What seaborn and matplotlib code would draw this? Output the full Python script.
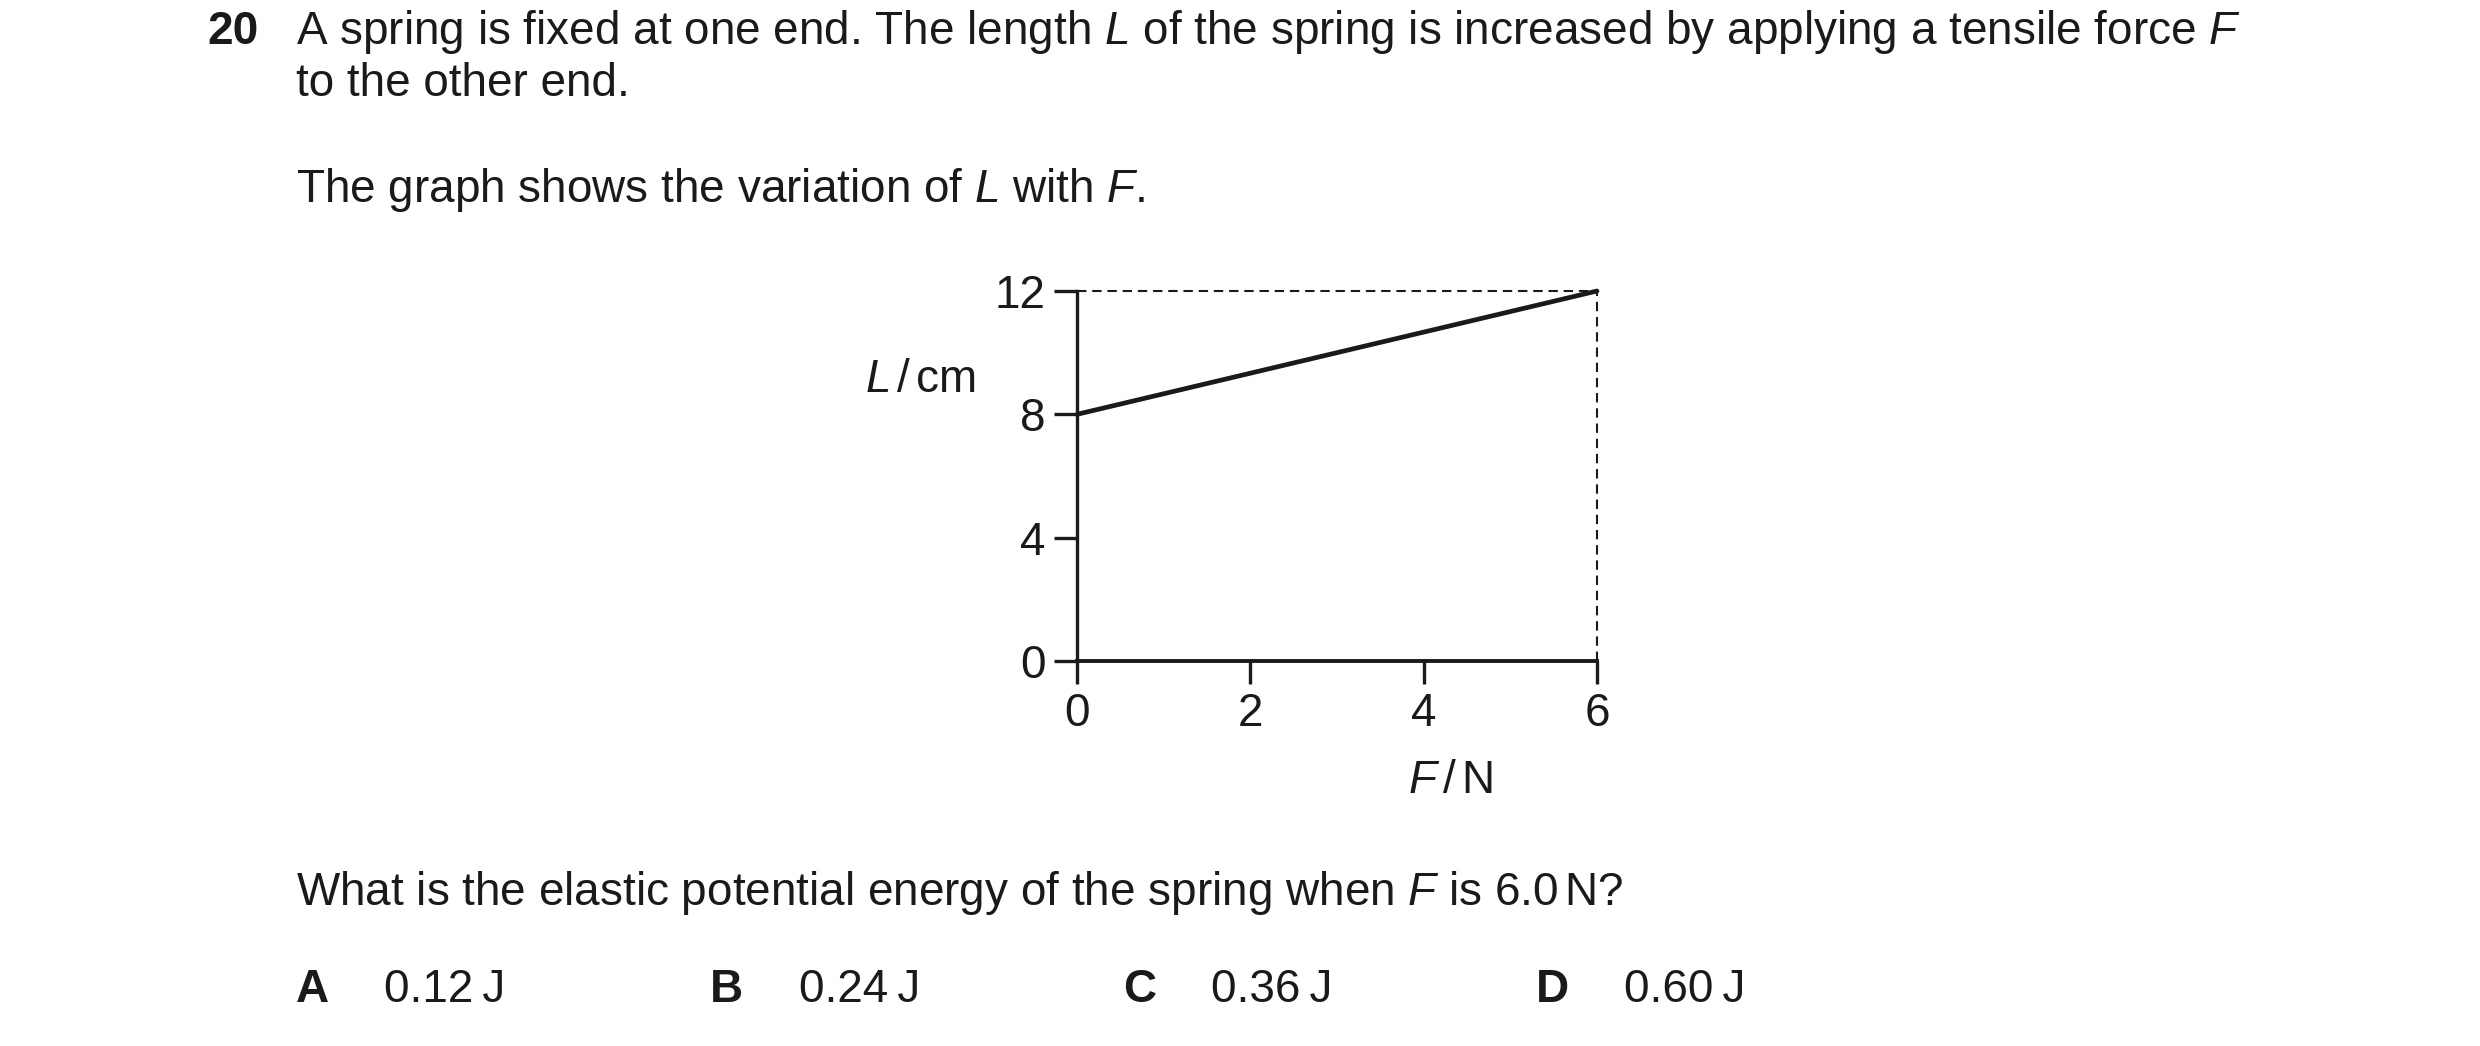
import matplotlib
matplotlib.use("Agg")
import matplotlib.pyplot as plt
import seaborn as sns
import pandas as pd

# Data
force_n = [0, 6]
length_cm = [8, 12]
x_ticks = [0, 2, 4, 6]
y_ticks = [0, 4, 8, 12]

option_letters = ["A", "B", "C", "D"]
option_values = ["0.12\u2009J", "0.24\u2009J", "0.36\u2009J", "0.60\u2009J"]

sns.set_theme(style="white")
plt.rcParams["font.family"] = ["Liberation Sans", "DejaVu Sans"]
plt.rcParams["mathtext.fontset"] = "custom"
plt.rcParams["mathtext.rm"] = "Liberation Sans"
plt.rcParams["mathtext.it"] = "Liberation Sans:italic"

W, H = 2480, 1046
fig = plt.figure(figsize=(W / 100, H / 100), dpi=100)
fig.patch.set_facecolor("white")


def px(x, y):
    return x / W, 1 - y / H


fs = 33
ink = "#1a1a1a"

# Question text
fig.text(*px(207, 32), "20", fontsize=fs, fontweight="bold", ha="left", va="center", color=ink)
fig.text(*px(296, 32),
         r"A spring is fixed at one end. The length $\mathit{L}$ of the spring is increased by applying a tensile force $\mathit{F}$",
         fontsize=fs, ha="left", va="center", color=ink)
fig.text(*px(296, 84), "to the other end.", fontsize=fs, ha="left", va="center", color=ink)
fig.text(*px(296, 190), r"The graph shows the variation of $\mathit{L}$ with $\mathit{F}$.",
         fontsize=fs, ha="left", va="center", color=ink)
fig.text(*px(296, 893), r"What is the elastic potential energy of the spring when $\mathit{F}$ is 6.0$\,$N?",
         fontsize=fs, ha="left", va="center", color=ink)

letter_x = [296, 710, 1123, 1536]
value_x = [384, 799, 1211, 1624]
for lx, vx, letter, val in zip(letter_x, value_x, option_letters, option_values):
    fig.text(*px(lx, 990), letter, fontsize=fs, fontweight="bold", ha="left", va="center", color=ink)
    fig.text(*px(vx, 990), val, fontsize=fs, ha="left", va="center", color=ink)

# Graph
ax = fig.add_axes([1077 / W, 1 - 661 / H, 520 / W, 370 / H])
df = pd.DataFrame({"F": force_n, "L": length_cm})
sns.lineplot(data=df, x="F", y="L", ax=ax, color=ink, linewidth=3.4, clip_on=False)

# dashed guide lines to the end point
dash = (0, (4.5, 2.8))
ax.plot([force_n[0], force_n[-1]], [length_cm[-1], length_cm[-1]], ls=dash, lw=1.5, color=ink, clip_on=False)
ax.plot([force_n[-1], force_n[-1]], [y_ticks[0], length_cm[-1]], ls=dash, lw=1.5, color=ink, clip_on=False)

ax.set_xlim(x_ticks[0], x_ticks[-1])
ax.set_ylim(y_ticks[0], y_ticks[-1])
ax.set_xticks(x_ticks)
ax.set_yticks(y_ticks)
ax.set_xlabel("")
ax.set_ylabel("")
for side in ["top", "right"]:
    ax.spines[side].set_visible(False)
ax.spines["left"].set_linewidth(2.4)
ax.spines["bottom"].set_linewidth(2.8)
ax.spines["left"].set_color(ink)
ax.spines["bottom"].set_color(ink)
ax.tick_params(axis="both", direction="out", length=16.5, width=2.4, colors=ink,
               labelsize=fs, pad=6, left=True, bottom=True)
ax.set_facecolor("white")

fig.text(*px(976, 380), r"$\mathit{L}$$\,$/$\,$cm", fontsize=fs, ha="right", va="center", color=ink)
fig.text(*px(1450, 781), r"$\mathit{F}$$\,$/$\,$N", fontsize=fs, ha="center", va="center", color=ink)

fig.savefig("out.png", dpi=100, facecolor="white")
